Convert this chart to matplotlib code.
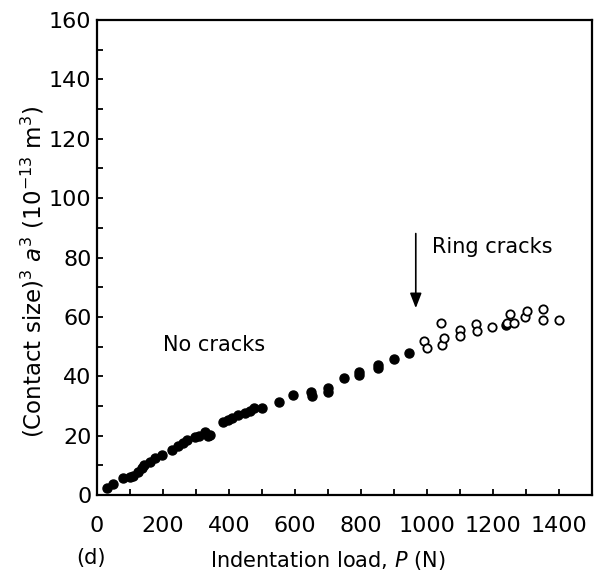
import numpy as np
import matplotlib
import matplotlib.pyplot as plt
from matplotlib.ticker import MultipleLocator

matplotlib.use('Agg')

# no cracks (filled dots)
load_nc = [29, 48, 80, 100, 110, 125, 135, 142, 160, 175, 198, 228, 246, 260, 273,
           296, 310, 328, 335, 341, 382, 398, 410, 427, 447, 465, 477, 500, 553, 593,
           649, 650, 699, 700, 749, 795, 795, 850, 850, 900, 946, 1238]
size_nc = [2.3, 3.8, 5.6, 6.2, 6.5, 7.8, 9.0, 10.1, 11.0, 12.4, 13.6, 15.2, 16.4, 17.5, 18.6,
           19.5, 20.0, 21.3, 19.8, 20.2, 24.5, 25.4, 25.8, 26.9, 27.5, 28.2, 29.2, 29.3, 31.4, 33.7,
           34.8, 33.5, 35.9, 34.6, 39.3, 41.5, 40.5, 43.8, 42.8, 45.7, 47.7, 57.3]

# ring cracks (open circles)
load_rc = [991, 1001, 1041, 1046, 1051, 1101, 1101, 1147, 1152, 1197, 1243, 1253, 1263,
           1298, 1303, 1353, 1353, 1399]
size_rc = [52.0, 49.4, 58.0, 50.5, 52.8, 55.6, 53.5, 57.6, 55.2, 56.7, 58.0, 60.9, 57.8,
           60.0, 62.1, 62.5, 58.9, 58.9]

x_ticks = [0, 200, 400, 600, 800, 1000, 1200, 1400]
y_ticks = [0, 20, 40, 60, 80, 100, 120, 140, 160]

fig = plt.figure(figsize=(5.96, 5.76), dpi=100)
ax = fig.add_axes([97 / 596, 81 / 576, 495 / 596, 475 / 576])

ax.plot(load_nc, size_nc, 'o', color='black', ms=6.5, mec='black')
ax.plot(load_rc, size_rc, 'o', mfc='white', mec='black', ms=6, mew=1.3)

ax.set_xlim(0, 1500)
ax.set_ylim(0, 160)
ax.set_xticks(x_ticks)
ax.set_yticks(y_ticks)
ax.xaxis.set_minor_locator(MultipleLocator(100))
ax.yaxis.set_minor_locator(MultipleLocator(10))
ax.tick_params(which='both', direction='in', length=4, width=1.3,
               top=False, right=False, labelsize=16)
ax.tick_params(axis='x', pad=15)
ax.tick_params(axis='y', pad=4)
for s in ax.spines.values():
    s.set_linewidth(1.6)

ax.set_xlabel('Indentation load, $P$ (N)', fontsize=15)
ax.xaxis.set_label_coords(0.467, -0.113)
ax.set_ylabel('(Contact size)$^3$ $a^3$ (10$^{-13}$ m$^3$)', fontsize=16.5)
ax.yaxis.set_label_coords(-0.103, 0.469)

ax.text(200, 50.5, 'No cracks', fontsize=15, va='center', ha='left')
ax.text(1015, 83.6, 'Ring cracks', fontsize=15, va='center', ha='left')
ax.annotate('', xy=(966, 62), xytext=(966, 89),
            arrowprops=dict(arrowstyle='-|>,head_width=0.35,head_length=0.9',
                            color='black', lw=1.2))

fig.text(91 / 596, 0.031, '(d)', fontsize=15, ha='center', va='center')

fig.savefig('out.png', dpi=100)
